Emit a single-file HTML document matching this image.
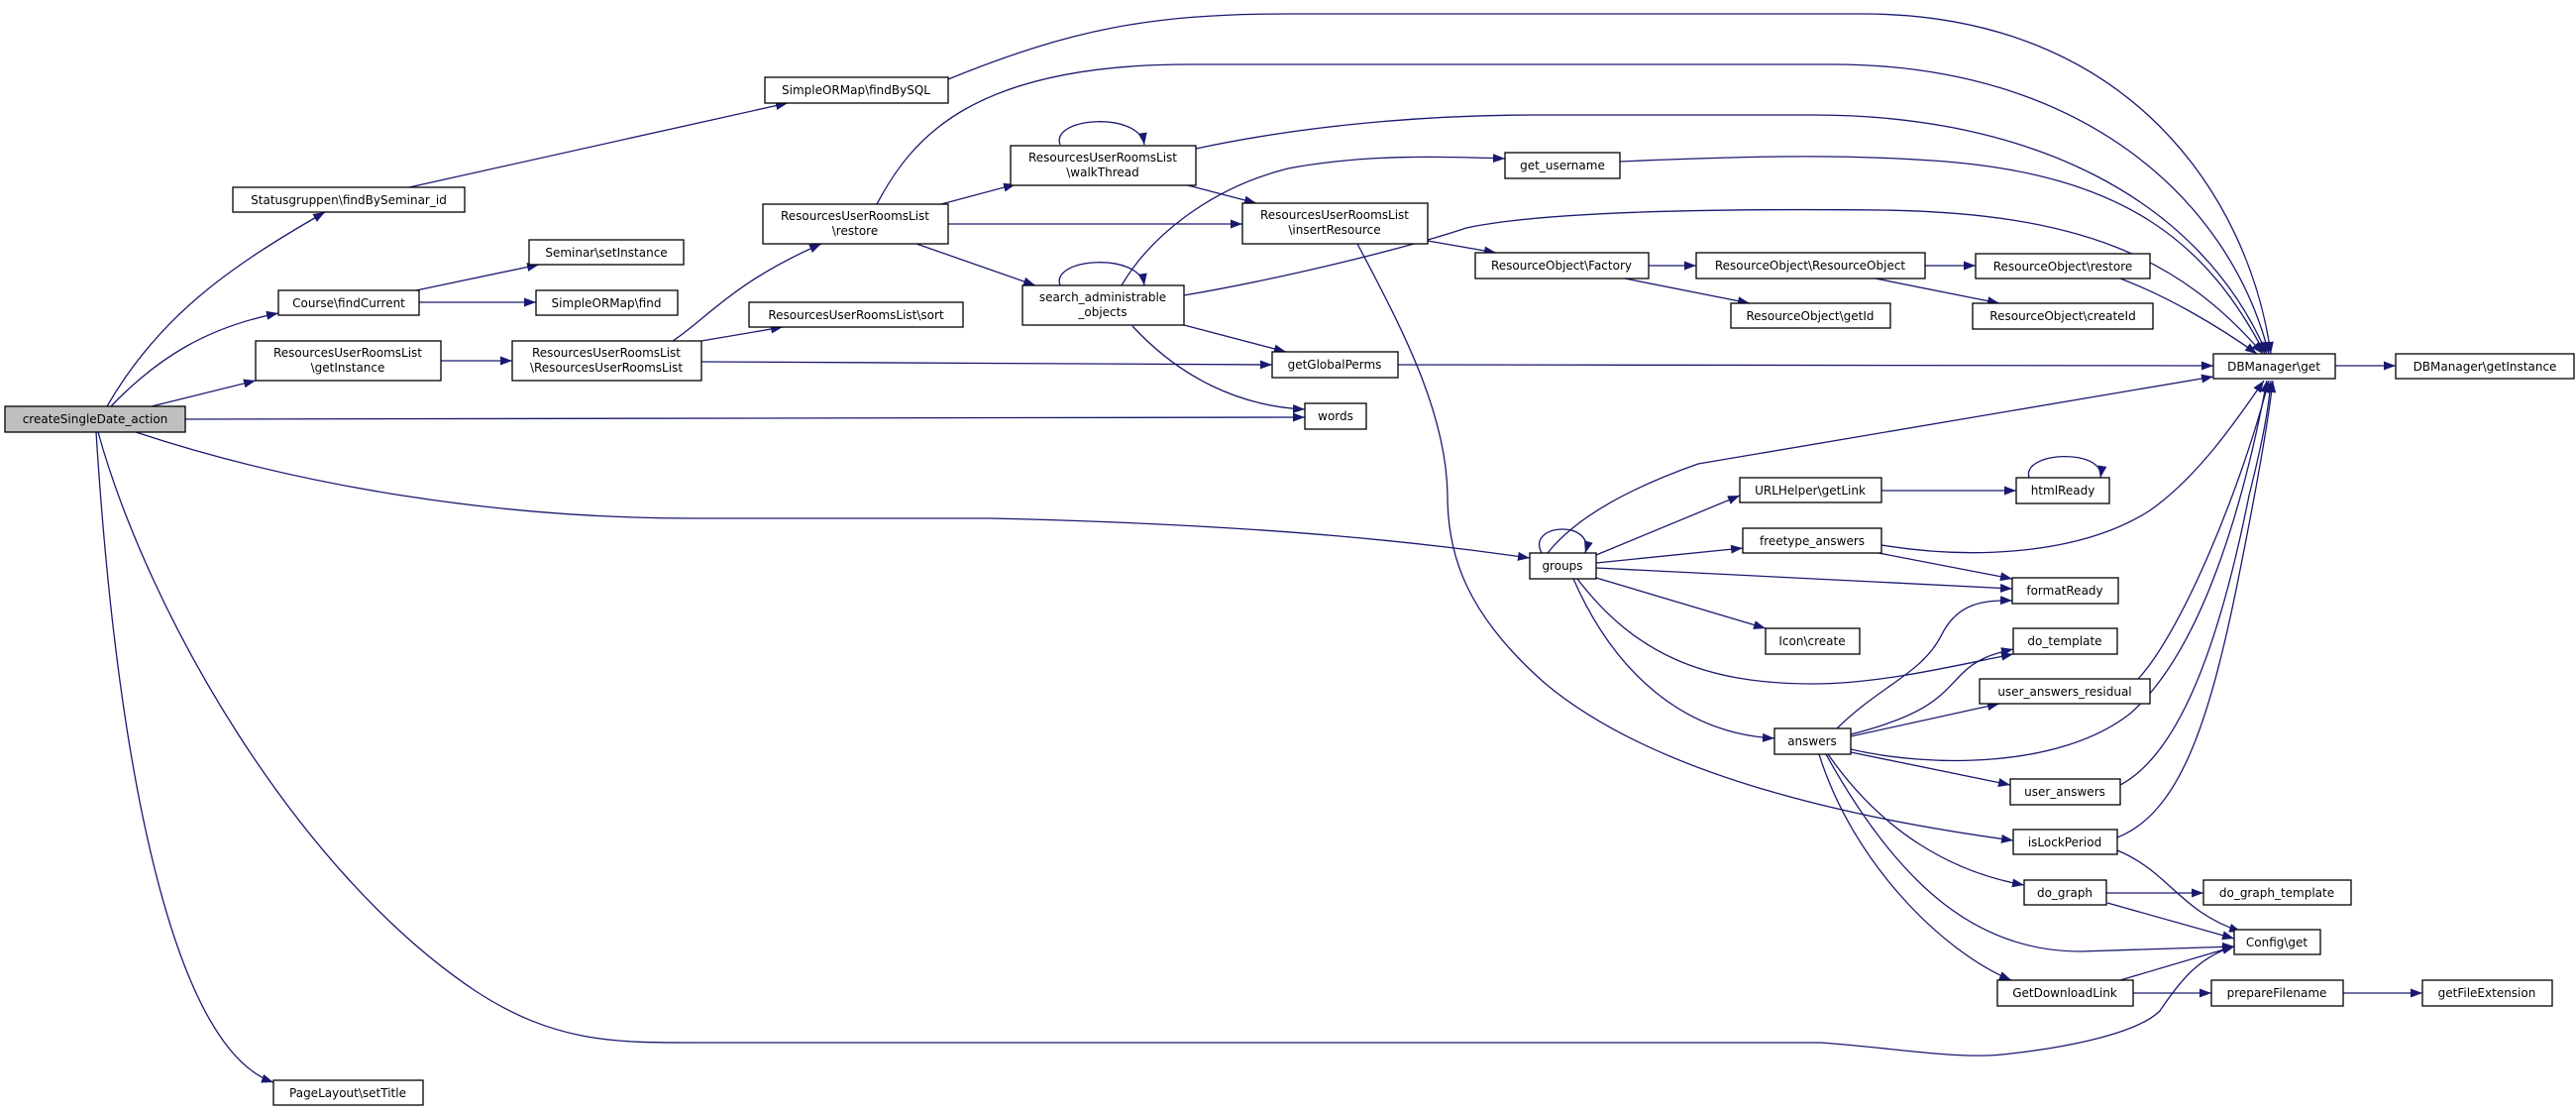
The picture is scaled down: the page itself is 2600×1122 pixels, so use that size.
<!DOCTYPE html>
<html><head><meta charset="utf-8"><style>
html,body{margin:0;padding:0;background:#fff;}
svg{display:block;}
text{font-family:"DejaVu Sans","Liberation Sans",sans-serif;font-size:12px;fill:#000;text-anchor:middle;}
.e{fill:none;stroke:#191970;stroke-width:1.3;}
.n{fill:#fff;stroke:#000;stroke-width:1.3;}
</style></head><body>
<svg width="2600" height="1122" viewBox="0 0 2600 1122" xmlns="http://www.w3.org/2000/svg">
<defs><marker id="a" markerWidth="13" markerHeight="10" refX="12" refY="5" orient="auto" markerUnits="userSpaceOnUse"><path d="M0,0.5 L12,5 L0,9.5 z" fill="#191970"/></marker></defs>
<g class="e" marker-end="url(#a)">
<path d="M108,410 C160,320 230,270 328,214"/>
<path d="M112,410 C160,360 210,330 281,316"/>
<path d="M153,410 L258,384"/>
<path d="M187,423 L1317,421"/>
<path d="M137,436 C300,490 500,523 700,523 L1000,523 C1300,530 1450,550 1544,563"/>
<path d="M99,436 C150,620 300,880 480,1000 C560,1052 620,1052 700,1052 L1838,1052 C1920,1058 1980,1070 2030,1063 C2100,1055 2160,1040 2180,1020 C2200,990 2220,965 2255,955"/>
<path d="M97,436 C120,800 180,1060 276,1092"/>
<path d="M413,189 L795,104"/>
<path d="M957,80 C1080,30 1160,14 1300,14 L1880,14 C2150,14 2270,200 2292,357"/>
<path d="M420,293 L544,267"/>
<path d="M423,305 L541,305"/>
<path d="M445,364 L517,364"/>
<path d="M679,344 C715,320 740,285 829,246"/>
<path d="M708,344 L790,330"/>
<path d="M708,365 L1284,368"/>
<path d="M885,206 C920,140 980,65 1200,65 L1850,65 C2100,65 2250,200 2290,357"/>
<path d="M950,206 L1025,186"/>
<path d="M957,226 L1254,226"/>
<path d="M925,246 L1045,288"/>
<path d="M1070,146 C1060,118 1150,112 1155,146"/>
<path d="M1207,150 C1300,130 1420,116 1550,116 L1830,116 C2050,116 2220,200 2288,357"/>
<path d="M1195,186 L1268,205"/>
<path d="M1070,288 C1060,260 1150,254 1155,288"/>
<path d="M1132,288 C1160,240 1220,190 1300,170 C1380,155 1460,158 1519,160"/>
<path d="M1195,298 C1300,280 1420,250 1480,230 C1550,215 1700,210 1900,212 C2100,215 2200,260 2284,357"/>
<path d="M1195,328 L1298,355"/>
<path d="M1143,329 C1190,380 1250,410 1317,413"/>
<path d="M1441,243 L1510,255"/>
<path d="M1370,246 C1420,340 1460,420 1461,500 C1461,560 1480,620 1560,690 C1680,790 1900,830 2032,848"/>
<path d="M1664,268 L1712,268"/>
<path d="M1640,281 L1766,306"/>
<path d="M1943,268 L1994,268"/>
<path d="M1893,281 L2018,306"/>
<path d="M2140,281 C2190,300 2240,330 2278,357"/>
<path d="M1635,163 C1750,158 1850,155 1950,162 C2150,175 2230,250 2286,357"/>
<path d="M1411,368 L2234,369"/>
<path d="M2357,369 L2418,369"/>
<path d="M1562,558 C1600,510 1680,480 1714,468 L2234,380"/>
<path d="M1556,558 C1540,528 1610,524 1600,558"/>
<path d="M1611,560 L1756,500"/>
<path d="M1611,568 L1759,553"/>
<path d="M1611,573 L2031,594"/>
<path d="M1611,583 L1782,634"/>
<path d="M1592,584 C1650,660 1720,690 1830,690 C1900,690 1980,670 2032,660"/>
<path d="M1588,584 C1630,680 1700,740 1791,745"/>
<path d="M1899,495 L2035,495"/>
<path d="M2048,482 C2040,455 2125,452 2120,482"/>
<path d="M1899,550 C1990,565 2100,560 2170,515 C2220,480 2260,420 2285,384"/>
<path d="M1896,558 L2031,584"/>
<path d="M1854,735 C1900,690 1940,680 1960,640 C1975,610 2000,605 2031,606"/>
<path d="M1868,741 C1950,720 1960,700 1980,680 C1995,665 2010,660 2032,655"/>
<path d="M1868,743 L2018,710"/>
<path d="M1868,756 C1950,775 2080,775 2150,720 C2230,650 2270,480 2288,384"/>
<path d="M1868,759 L2029,792"/>
<path d="M1845,761 C1900,840 1970,880 2043,893"/>
<path d="M1843,761 C1920,900 2000,960 2100,960 L2255,955"/>
<path d="M1836,761 C1870,870 1960,960 2030,989"/>
<path d="M2158,685 C2200,640 2260,500 2290,384"/>
<path d="M2140,792 C2200,760 2240,650 2270,500 C2285,440 2290,410 2292,384"/>
<path d="M2137,845 C2200,820 2230,730 2260,580 C2280,480 2290,420 2294,384"/>
<path d="M2137,858 C2190,880 2200,920 2262,940"/>
<path d="M2127,911 L2255,947"/>
<path d="M2126,901 L2224,901"/>
<path d="M2140,989 L2255,955"/>
<path d="M2153,1002 L2232,1002"/>
<path d="M2365,1002 L2445,1002"/>
</g>
<g>
<rect class="n" x="5" y="410" width="182" height="26" style="fill:#bfbfbf"/><text x="96" y="427">createSingleDate_action</text>
<rect class="n" x="235" y="189" width="234" height="25"/><text x="352" y="206">Statusgruppen\findBySeminar_id</text>
<rect class="n" x="772" y="78" width="185" height="26"/><text x="864" y="95">SimpleORMap\findBySQL</text>
<rect class="n" x="534" y="242" width="156" height="25"/><text x="612" y="259">Seminar\setInstance</text>
<rect class="n" x="281" y="293" width="142" height="25"/><text x="352" y="310">Course\findCurrent</text>
<rect class="n" x="541" y="293" width="143" height="25"/><text x="612" y="310">SimpleORMap\find</text>
<rect class="n" x="258" y="344" width="187" height="40"/><text x="351" y="360">ResourcesUserRoomsList</text><text x="351" y="375">\getInstance</text>
<rect class="n" x="517" y="344" width="191" height="40"/><text x="612" y="360">ResourcesUserRoomsList</text><text x="612" y="375">\ResourcesUserRoomsList</text>
<rect class="n" x="756" y="305" width="216" height="25"/><text x="864" y="322">ResourcesUserRoomsList\sort</text>
<rect class="n" x="770" y="206" width="187" height="40"/><text x="863" y="222">ResourcesUserRoomsList</text><text x="863" y="237">\restore</text>
<rect class="n" x="1020" y="147" width="187" height="40"/><text x="1113" y="163">ResourcesUserRoomsList</text><text x="1113" y="178">\walkThread</text>
<rect class="n" x="1254" y="205" width="187" height="41"/><text x="1347" y="221">ResourcesUserRoomsList</text><text x="1347" y="236">\insertResource</text>
<rect class="n" x="1519" y="154" width="116" height="26"/><text x="1577" y="171">get_username</text>
<rect class="n" x="1032" y="288" width="163" height="40"/><text x="1113" y="304">search_administrable</text><text x="1113" y="319">_objects</text>
<rect class="n" x="1489" y="255" width="175" height="26"/><text x="1576" y="272">ResourceObject\Factory</text>
<rect class="n" x="1712" y="255" width="231" height="26"/><text x="1827" y="272">ResourceObject\ResourceObject</text>
<rect class="n" x="1747" y="306" width="161" height="25"/><text x="1827" y="323">ResourceObject\getId</text>
<rect class="n" x="1994" y="256" width="176" height="25"/><text x="2082" y="273">ResourceObject\restore</text>
<rect class="n" x="1991" y="306" width="182" height="26"/><text x="2082" y="323">ResourceObject\createId</text>
<rect class="n" x="2234" y="357" width="123" height="25"/><text x="2295" y="374">DBManager\get</text>
<rect class="n" x="2418" y="357" width="180" height="25"/><text x="2508" y="374">DBManager\getInstance</text>
<rect class="n" x="1284" y="355" width="127" height="26"/><text x="1347" y="372">getGlobalPerms</text>
<rect class="n" x="1317" y="407" width="62" height="26"/><text x="1348" y="424">words</text>
<rect class="n" x="1756" y="482" width="143" height="25"/><text x="1827" y="499">URLHelper\getLink</text>
<rect class="n" x="2035" y="482" width="94" height="26"/><text x="2082" y="499">htmlReady</text>
<rect class="n" x="1759" y="533" width="140" height="25"/><text x="1829" y="550">freetype_answers</text>
<rect class="n" x="1544" y="558" width="67" height="26"/><text x="1577" y="575">groups</text>
<rect class="n" x="2031" y="583" width="107" height="26"/><text x="2084" y="600">formatReady</text>
<rect class="n" x="1782" y="634" width="95" height="26"/><text x="1829" y="651">Icon\create</text>
<rect class="n" x="2032" y="634" width="105" height="26"/><text x="2084" y="651">do_template</text>
<rect class="n" x="1998" y="685" width="172" height="25"/><text x="2084" y="702">user_answers_residual</text>
<rect class="n" x="1791" y="735" width="77" height="26"/><text x="1829" y="752">answers</text>
<rect class="n" x="2029" y="786" width="111" height="26"/><text x="2084" y="803">user_answers</text>
<rect class="n" x="2032" y="837" width="105" height="25"/><text x="2084" y="854">isLockPeriod</text>
<rect class="n" x="2043" y="888" width="83" height="25"/><text x="2084" y="905">do_graph</text>
<rect class="n" x="2224" y="888" width="149" height="25"/><text x="2298" y="905">do_graph_template</text>
<rect class="n" x="2255" y="938" width="87" height="25"/><text x="2298" y="955">Config\get</text>
<rect class="n" x="2016" y="989" width="137" height="26"/><text x="2084" y="1006">GetDownloadLink</text>
<rect class="n" x="2232" y="989" width="133" height="26"/><text x="2298" y="1006">prepareFilename</text>
<rect class="n" x="2445" y="989" width="131" height="26"/><text x="2510" y="1006">getFileExtension</text>
<rect class="n" x="276" y="1090" width="151" height="25"/><text x="351" y="1107">PageLayout\setTitle</text>
</g>
</svg>
</body></html>
